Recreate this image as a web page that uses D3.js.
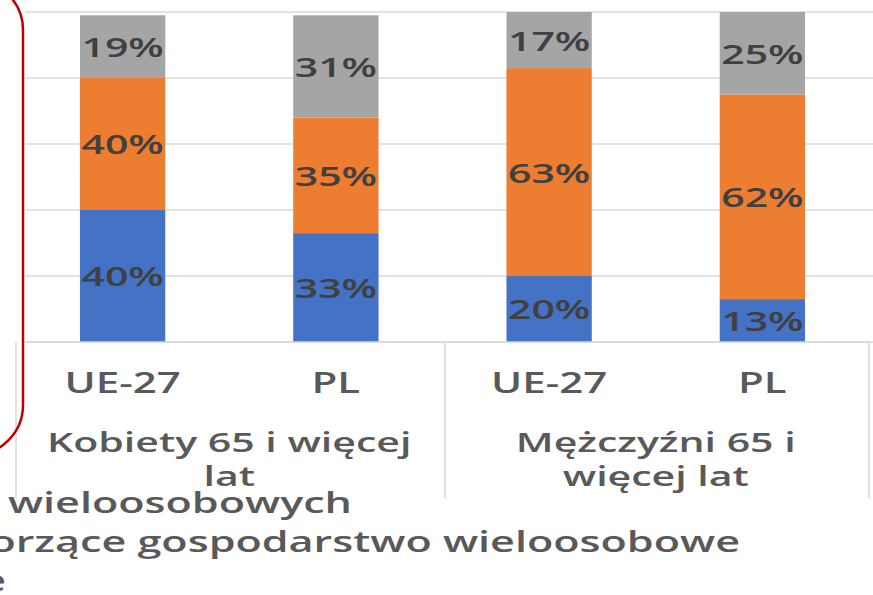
<!DOCTYPE html>
<html>
<head>
<meta charset="utf-8">
<script src="https://cdn.jsdelivr.net/npm/d3@7"></script>
<style>
    html, body { margin: 0; padding: 0; background: #fff; overflow: hidden; }
    text { font-family: "Open Sans", "Noto Sans", sans-serif; }
</style>
</head>
<body>
<div id="chart"></div>
<script>
;(function () {

    // Chart data.
    var categories = ['UE-27', 'PL', 'UE-27', 'PL'];
    var groups = [
        ['Kobiety 65 i więcej', 'lat'],
        ['Mężczyźni 65 i', 'więcej lat']
    ];
    var seriesNames = [
        'Osoby mieszkające samotnie, poza gospodarstwami typy wieloosobowych',
        'Osoby tworzące gospodarstwo wieloosobowe',
        'Pozostałe'
    ];
    var alone  = [40, 33, 20, 13];
    var couple = [40, 35, 63, 62];
    var other  = [19, 31, 17, 25];
    var yTicks = [0, 20, 40, 60, 80, 100];

    var colors = ['#4472c4', '#ed7d31', '#a5a5a5'];
    var width = 873, height = 595;

    var rows = categories.map(function (c, i) {
        return { i: i, alone: alone[i], couple: couple[i], other: other[i] };
    });
    var keys = ['alone', 'couple', 'other'];
    var stacked = d3.stack().keys(keys)(rows);

    var svg = d3.select('#chart').append('svg')
        .attr('width', width)
        .attr('height', height);

    var x = d3.scaleBand()
        .domain(d3.range(categories.length))
        .range([16, 869])
        .paddingInner(0.6)
        .paddingOuter(0.3);

    var y = d3.scaleLinear()
        .domain([0, 100])
        .range([342, 12]);

    // the source picture is stretched sideways, so text is too
    function place(sel, px, py, sx) {
        return sel.attr('transform', 'translate(' + px + ',' + py + ') scale(' + sx + ',1)');
    }

    // Gridlines
    svg.append('g').selectAll('line')
        .data(yTicks)
        .enter()
        .append('line')
        .attr('x1', 25)
        .attr('x2', width)
        .attr('y1', function (d) { return y(d); })
        .attr('y2', function (d) { return y(d); })
        .attr('stroke', '#d9d9d9')
        .attr('stroke-width', 1.5);

    // Stacked bars
    var layer = svg.append('g').selectAll('g')
        .data(stacked)
        .enter()
        .append('g')
        .attr('fill', function (d, i) { return colors[i]; });

    layer.selectAll('rect')
        .data(function (d) { return d; })
        .enter()
        .append('rect')
        .attr('x', function (d) { return x(d.data.i); })
        .attr('width', x.bandwidth())
        .attr('y', function (d) { return y(d[1]); })
        .attr('height', function (d) { return y(d[0]) - y(d[1]); });

    // Value labels in the middle of each segment
    layer.selectAll('text')
        .data(function (d) { return d.map(function (p) { return { p: p, v: p[1] - p[0] }; }); })
        .enter()
        .append('text')
        .each(function (d) {
            place(d3.select(this), x(d.p.data.i) + x.bandwidth() / 2, y((d.p[0] + d.p[1]) / 2), 1.52);
        })
        .attr('text-anchor', 'middle')
        .attr('dominant-baseline', 'central')
        .attr('font-size', 27)
        .attr('font-weight', 600)
        .attr('fill', '#404040')
        .text(function (d) { return d.v + '%'; });

    // Category axis with two levels
    var axis = svg.append('g');
    axis.append('line')
        .attr('x1', 25).attr('x2', 869)
        .attr('y1', y(0)).attr('y2', y(0))
        .attr('stroke', '#d9d9d9').attr('stroke-width', 1.5);

    axis.selectAll('line.sep')
        .data([16, 445, 869])
        .enter()
        .append('line')
        .attr('class', 'sep')
        .attr('x1', function (d) { return d; })
        .attr('x2', function (d) { return d; })
        .attr('y1', y(0))
        .attr('y2', 498)
        .attr('stroke', '#d9d9d9')
        .attr('stroke-width', 1.5);

    axis.selectAll('text.cat')
        .data(categories)
        .enter()
        .append('text')
        .attr('class', 'cat')
        .each(function (d, i) { place(d3.select(this), x(i) + x.bandwidth() / 2, 393, 1.5); })
        .attr('text-anchor', 'middle')
        .attr('font-size', 28)
        .attr('font-weight', 600)
        .attr('fill', '#595959')
        .text(function (d) { return d; });

    groups.forEach(function (lines, g) {
        var cx = (x(g * 2) + x(g * 2 + 1) + x.bandwidth()) / 2;
        lines.forEach(function (s, k) {
            place(axis.append('text'), cx, 452 + k * 34, 1.52)
                .attr('text-anchor', 'middle')
                .attr('font-size', 27)
                .attr('font-weight', 600)
                .attr('fill', '#595959')
                .text(s);
        });
    });

    // Legend, mostly cut off at the left edge
    var legendEnds = [352, 740, 6];
    seriesNames.forEach(function (s, i) {
        place(svg.append('text'), legendEnds[i], 513 + i * 39, 1.54)
            .attr('text-anchor', 'end')
            .attr('font-size', 28)
            .attr('font-weight', 600)
            .attr('fill', '#595959')
            .text(s);
    });

    // Red rounded frame on the left
    svg.append('rect')
        .attr('x', -300)
        .attr('y', -20)
        .attr('width', 323)
        .attr('height', 475)
        .attr('rx', 50)
        .attr('fill', 'none')
        .attr('stroke', '#c00000')
        .attr('stroke-width', 2.5);

})();
</script>
</body>
</html>
